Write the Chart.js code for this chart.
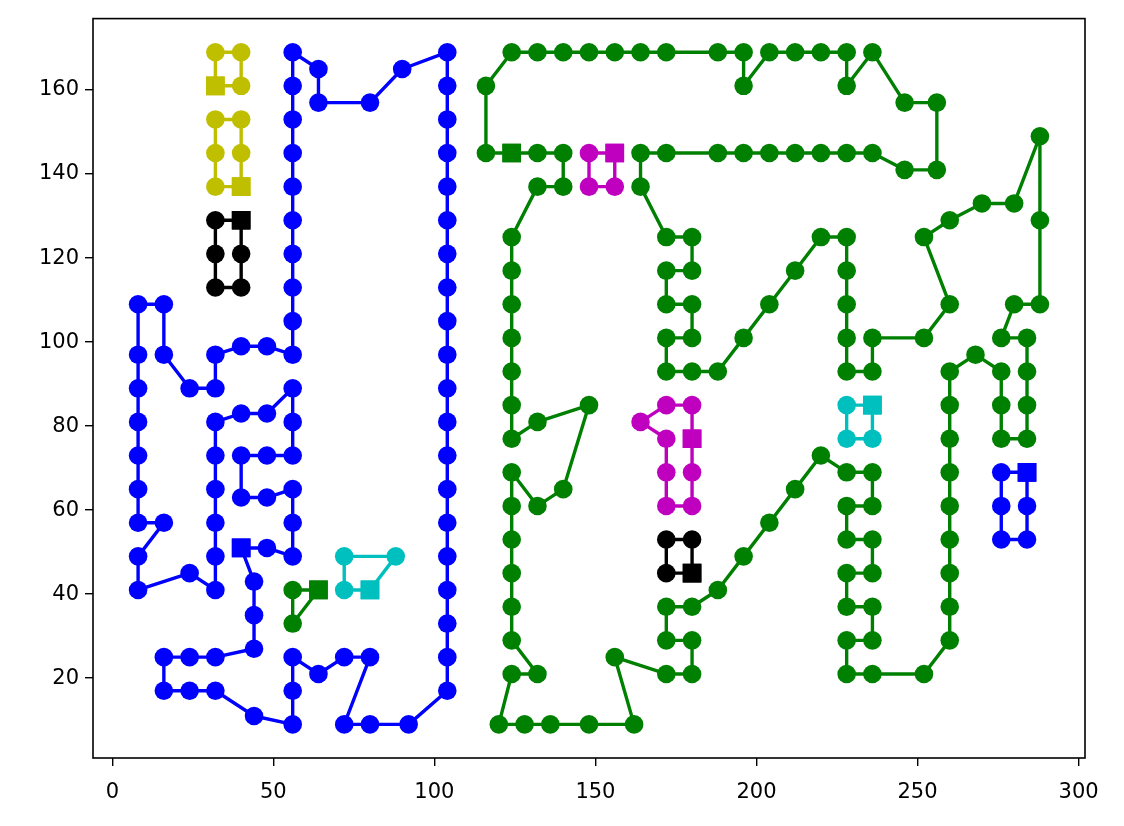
<!DOCTYPE html>
<html lang="en">
<head>
  <meta charset="UTF-8">
  <title>Paths</title>
  <script src="https://cdn.jsdelivr.net/npm/chart.js"></script>
  <style>
    body { margin: 0; padding: 0; background: #fff; }
    .wrap { width: 1124px; height: 826px; }
  </style>
</head>
<body>
  <div class="wrap"><canvas id="pathChart"></canvas></div>
  <script>
    // each path is a closed loop, first point (square marker) repeated at the end
    const blueLoop = [
      [40,51],[48,51],[56,49],[56,57],[56,65],[48,63],[40,63],[40,73],[48,73],[56,73],
      [56,81],[56,89],[48,83],[40,83],[32,81],[32,73],[32,65],[32,57],[32,49],[32,41],
      [24,45],[8,41],[8,49],[16,57],[8,57],[8,65],[8,73],[8,81],[8,89],[8,97],[8,109],
      [16,109],[16,97],[24,89],[32,89],[32,97],[40,99],[48,99],[56,97],[56,105],[56,113],
      [56,121],[56,129],[56,137],[56,145],[56,153],[56,161],[56,169],[64,165],[64,157],
      [80,157],[90,165],[104,169],[104,161],[104,153],[104,145],[104,137],[104,129],
      [104,121],[104,113],[104,105],[104,97],[104,89],[104,81],[104,73],[104,65],[104,57],
      [104,49],[104,41],[104,33],[104,25],[104,17],[92,9],[80,9],[72,9],[80,25],[72,25],
      [64,21],[56,25],[56,17],[56,9],[44,11],[32,17],[24,17],[16,17],[16,25],[24,25],
      [32,25],[44,27],[44,35],[44,43],[40,51]
    ];
    const greenLoop = [
      [124,145],[132,145],[140,145],[140,137],[132,137],[124,125],[124,117],[124,109],
      [124,101],[124,93],[124,85],[124,77],[132,81],[148,85],[140,65],[132,61],[124,69],
      [124,61],[124,53],[124,45],[124,37],[124,29],[132,21],[124,21],[120,9],[128,9],
      [136,9],[148,9],[162,9],[156,25],[172,21],[180,21],[180,29],[172,29],[172,37],
      [180,37],[188,41],[196,49],[204,57],[212,65],[220,73],[228,69],[236,69],[236,61],
      [228,61],[228,53],[236,53],[236,45],[228,45],[228,37],[236,37],[236,29],[228,29],
      [228,21],[236,21],[252,21],[260,29],[260,37],[260,45],[260,53],[260,61],[260,69],
      [260,77],[260,85],[260,93],[268,97],[276,93],[276,85],[276,77],[284,77],[284,85],
      [284,93],[284,101],[276,101],[280,109],[288,109],[288,129],[288,149],[280,133],
      [270,133],[260,129],[252,125],[260,109],[252,101],[236,101],[236,93],[228,93],
      [228,101],[228,109],[228,117],[228,125],[220,125],[212,117],[204,109],[196,101],
      [188,93],[180,93],[172,93],[172,101],[180,101],[180,109],[172,109],[172,117],
      [180,117],[180,125],[172,125],[164,137],[164,145],[172,145],[188,145],[196,145],
      [204,145],[212,145],[220,145],[228,145],[236,145],[246,141],[256,141],[256,157],
      [246,157],[236,169],[228,161],[228,169],[220,169],[212,169],[204,169],[196,161],
      [196,169],[188,169],[172,169],[164,169],[156,169],[148,169],[140,169],[132,169],
      [124,169],[116,161],[116,145],[124,145]
    ];
    const yellowTop = [[32,161],[32,169],[40,169],[40,161],[32,161]];
    const yellowLow = [[40,137],[40,145],[40,153],[32,153],[32,145],[32,137],[40,137]];
    const blackTop = [[40,129],[32,129],[32,121],[32,113],[40,113],[40,121],[40,129]];
    const blackLow = [[180,45],[180,53],[172,53],[172,45],[180,45]];
    const magentaTop = [[156,145],[148,145],[148,137],[156,137],[156,145]];
    const magentaLow = [[180,77],[180,85],[172,85],[164,81],[172,77],[172,69],[172,61],[180,61],[180,69],[180,77]];
    const cyanRight = [[236,85],[228,85],[228,77],[236,77],[236,85]];
    const cyanLeft = [[80,41],[88,49],[72,49],[72,41],[80,41]];
    const blueSmall = [[284,69],[276,69],[276,61],[276,53],[284,53],[284,61],[284,69]];
    const greenSmall = [[64,41],[56,41],[56,33],[64,41]];

    const xTicks = [0, 50, 100, 150, 200, 250, 300];
    const yTicks = [20, 40, 60, 80, 100, 120, 140, 160];

    const paths = [
      [blueLoop, '#0000ff'], [greenLoop, '#008000'],
      [yellowTop, '#bfbf00'], [yellowLow, '#bfbf00'],
      [blackTop, '#000000'], [blackLow, '#000000'],
      [magentaTop, '#bf00bf'], [magentaLow, '#bf00bf'],
      [cyanRight, '#00bfbf'], [cyanLeft, '#00bfbf'],
      [blueSmall, '#0000ff'], [greenSmall, '#008000']
    ];

    const datasets = paths.map(([pts, color]) => {
      const n = pts.length;
      const isEnd = i => i === 0 || i === n - 1;
      return {
        data: pts.map(p => ({ x: p[0], y: p[1] })),
        showLine: true,
        borderColor: color,
        backgroundColor: color,
        borderWidth: 3.4,
        borderJoinStyle: 'round',
        pointBackgroundColor: color,
        pointBorderWidth: 0,
        pointRadius: pts.map((p, i) => isEnd(i) ? 13.2 : 9.3),
        pointStyle: pts.map((p, i) => isEnd(i) ? 'rect' : 'circle'),
        pointHoverRadius: 0
      };
    });

    const frame = {
      id: 'frame',
      afterDraw(chart) {
        const a = chart.chartArea, ctx = chart.ctx;
        ctx.save();
        ctx.strokeStyle = '#000';
        ctx.lineWidth = 1.6;
        ctx.strokeRect(a.left, a.top, a.right - a.left, a.bottom - a.top);
        ctx.restore();
      }
    };

    const tickFont = { family: 'DejaVu Sans', size: 21 };

    new Chart(document.getElementById('pathChart'), {
      type: 'scatter',
      data: { datasets },
      options: {
        responsive: true,
        maintainAspectRatio: false,
        animation: false,
        layout: { padding: { left: 0, top: 18, right: 39, bottom: 0 } },
        scales: {
          x: {
            type: 'linear', min: -6, max: 302,
            afterFit: s => { s.height = 68; },
            afterBuildTicks: s => { s.ticks = xTicks.map(v => ({ value: v })); },
            grid: { drawOnChartArea: false, drawTicks: true, tickLength: 8, color: '#000', lineWidth: 1.4 },
            border: { display: false },
            ticks: { color: '#000', font: tickFont, padding: 14, maxRotation: 0 }
          },
          y: {
            type: 'linear', min: 1, max: 177,
            afterFit: s => { s.width = 93; },
            afterBuildTicks: s => { s.ticks = yTicks.map(v => ({ value: v })); },
            grid: { drawOnChartArea: false, drawTicks: true, tickLength: 8, color: '#000', lineWidth: 1.4 },
            border: { display: false },
            ticks: { color: '#000', font: tickFont, padding: 6 }
          }
        },
        plugins: {
          legend: { display: false },
          tooltip: { enabled: false }
        }
      },
      plugins: [frame]
    });
  </script>
</body>
</html>
